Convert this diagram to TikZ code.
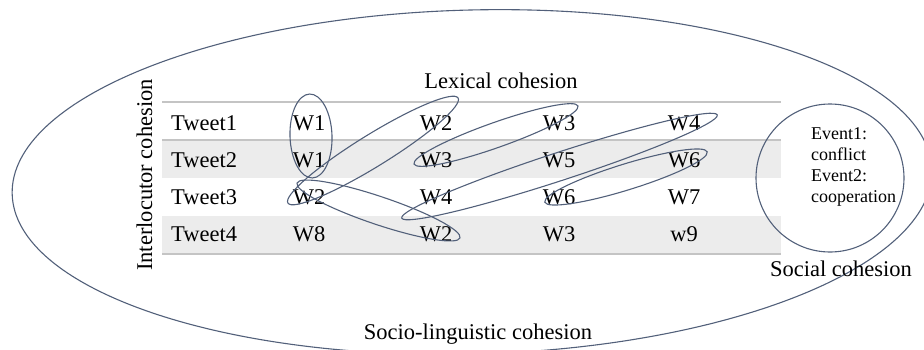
\documentclass[tikz,border=0pt]{standalone}
\usepackage{fontspec}
\setmainfont{Liberation Serif}
\definecolor{loopc}{HTML}{52607A}
\definecolor{bandc}{HTML}{ECECEC}
\definecolor{rulec}{HTML}{C4C4C4}
\begin{document}
\begin{tikzpicture}[x=1pt,y=1pt,
  txt/.style={font=\fontsize{22.5}{27}\selectfont, inner sep=0pt},
  cell/.style={txt, anchor=base},
  rowlabel/.style={txt, anchor=base west},
  loopline/.style={draw=loopc, line width=1.1pt},
  tablerule/.style={draw=rulec, line width=2pt}]
\useasboundingbox (0,0) rectangle (924,-349);

% outer socio-linguistic ellipse
\draw[loopline, rotate around={1.5:(472,-182)}] (472,-182) ellipse (460 and 172);

% table bands and rules
\fill[bandc] (162,-140) rectangle (781,-178);
\fill[bandc] (162,-216) rectangle (781,-253);
\draw[tablerule] (162,-102) -- (781,-102);
\draw[tablerule] (162,-140) -- (781,-140);
\draw[tablerule] (162,-254) -- (781,-254);

% row labels
\node[rowlabel] (t1) at (171,-130) {Tweet1};
\node[rowlabel] (t2) at (171,-167.5) {Tweet2};
\node[rowlabel] (t3) at (171,-204.5) {Tweet3};
\node[rowlabel] (t4) at (171,-241.5) {Tweet4};

% words
\node[cell] (w11) at (309,-130) {W1};
\node[cell] (w12) at (436,-130) {W2};
\node[cell] (w13) at (559,-130) {W3};
\node[cell] (w14) at (684,-130) {W4};
\node[cell] (w21) at (309,-167.5) {W1};
\node[cell] (w22) at (436,-167.5) {W3};
\node[cell] (w23) at (559,-167.5) {W5};
\node[cell] (w24) at (684,-167.5) {W6};
\node[cell] (w31) at (309,-204.5) {W2};
\node[cell] (w32) at (436,-204.5) {W4};
\node[cell] (w33) at (559,-204.5) {W6};
\node[cell] (w34) at (684,-204.5) {W7};
\node[cell] (w41) at (309,-241.5) {W8};
\node[cell] (w42) at (436,-241.5) {W2};
\node[cell] (w43) at (559,-241.5) {W3};
\node[cell] (w44) at (684,-241.5) {w9};

% lexical cohesion loops
\draw[loopline, rotate around={2:(311,-136)}] (311,-136) ellipse (21 and 42);
\draw[loopline, rotate around={31.7:(373,-150.5)}] (373,-150.5) ellipse (100 and 16);
\draw[loopline, rotate around={-18.6:(378.5,-210.5)}] (378.5,-210.5) ellipse (86 and 14);
\draw[loopline, rotate around={19.5:(496,-135)}] (496,-135) ellipse (87 and 12.5);
\draw[loopline, rotate around={18.1:(559.5,-166.5)}] (559.5,-166.5) ellipse (166 and 14);
\draw[loopline, rotate around={17.2:(626,-177)}] (626,-177) ellipse (85 and 13);

% social cohesion circle
\draw[loopline] (830,-178) circle (74);
\node[inner sep=0pt, anchor=north west, align=left,
      font=\fontsize{18}{21}\selectfont] (events) at (811,-127)
  {Event1:\\conflict\\Event2:\\cooperation};

% labels
\node[cell] (lex) at (501,-88) {Lexical cohesion};
\node[cell] (soc) at (841,-276) {Social cohesion};
\node[cell] (sling) at (478,-339) {Socio-linguistic cohesion};
\node[txt, rotate=90, anchor=base] (inter) at (152,-175) {Interlocutor cohesion};
\end{tikzpicture}
\end{document}
